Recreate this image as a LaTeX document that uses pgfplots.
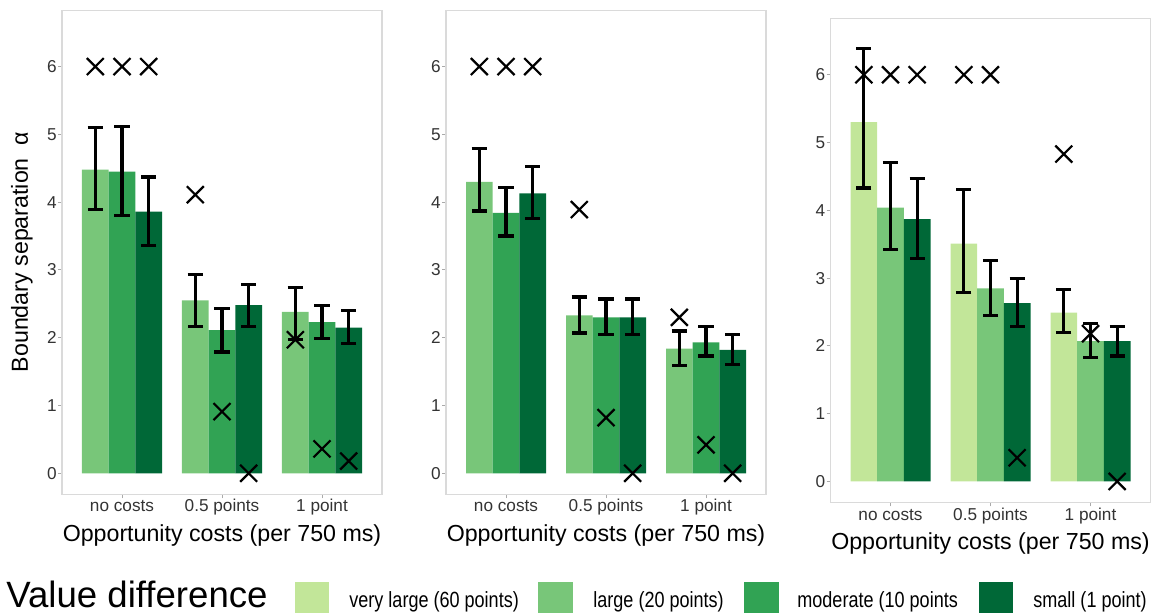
\documentclass[border=0pt]{standalone}
\usepackage{pgfplots}
\pgfplotsset{compat=1.18}
\usepackage{pgfplotstable}
\usepackage{fontspec}
\setmainfont{Liberation Sans}
\newfontfamily\legfont[FakeStretch=0.82]{Liberation Sans}

\definecolor{cVL}{HTML}{C2E699}
\definecolor{cL}{HTML}{78C679}
\definecolor{cM}{HTML}{31A354}
\definecolor{cS}{HTML}{006837}
\definecolor{boxgray}{RGB}{218,218,218}
\definecolor{tickgray}{RGB}{170,170,170}

% columns: g = group; per series: y, lo, hi, c (cross)
\pgfplotstableread{
g ya loa hia ca yb lob hib cb yc loc hic cc
1 4.48 3.89 5.10 6.00 4.45 3.80 5.12 6.00 3.86 3.36 4.37 6.00
2 2.55 2.17 2.93 4.11 2.11 1.79 2.43 0.91 2.48 2.17 2.79 0.00
3 2.38 1.97 2.74 1.97 2.23 1.99 2.48 0.36 2.15 1.91 2.40 0.18
}\tA
\pgfplotstableread{
g ya loa hia ca yb lob hib cb yc loc hic cc
1 4.30 3.87 4.79 6.00 3.84 3.50 4.22 6.00 4.13 3.76 4.53 6.00
2 2.33 2.07 2.60 3.89 2.30 2.05 2.57 0.82 2.30 2.05 2.57 0.00
3 1.84 1.59 2.10 2.30 1.93 1.73 2.16 0.42 1.82 1.60 2.05 0.00
}\tB
\pgfplotstableread{
g ya loa hia ca yb lob hib cb yc loc hic cc
1 5.30 4.33 6.39 6.00 4.04 3.42 4.70 6.00 3.87 3.29 4.47 6.00
2 3.51 2.79 4.31 6.00 2.85 2.45 3.26 6.00 2.63 2.29 3.00 0.35
3 2.49 2.20 2.83 4.83 2.07 1.83 2.33 2.18 2.07 1.85 2.29 0.00
}\tC

\pgfplotsset{
  panel/.style={
    scale only axis, width=160pt, height=242pt,
    anchor=south west,
    xmin=0.4, xmax=3.6, ymin=-0.31, ymax=6.83,
    xtick={1,2,3}, xticklabels={no costs,0.5 points,1 point},
    ytick={0,1,2,3,4,5,6},
    xtick pos=bottom, ytick pos=left,
    axis line style={draw=boxgray, line width=0.6pt},
    tick align=outside, major tick length=2pt,
    tick style={draw=tickgray, line width=0.5pt},
    /pgf/number format/assume math mode=true,
    tick label style={font=\fontsize{8.6}{10}\selectfont, text=black!80},
    yticklabel style={anchor=east, inner sep=0pt, xshift=-0.5pt},
    xticklabel style={anchor=base, inner sep=0pt, yshift=-6.8pt},
    xlabel={Opportunity costs (per 750 ms)},
    xlabel style={font=\fontsize{11.6}{14}\selectfont, anchor=base, at={(axis description cs:0.5,0)}, yshift=-23.4pt, inner sep=0pt},
    clip=false,
  },
  bars/.style={ybar, bar width=0.2667, bar shift=0pt, draw=none, fill=#1, forget plot},
  ebar/.style={draw=none, mark=none, forget plot,
    error bars/.cd, y dir=both, y explicit, error mark=|,
    error bar style={draw=black, line width=1.6pt},
    error mark options={draw=black, line width=1.6pt, mark size=3.8pt}},
  crs/.style={only marks, mark=x, mark size=6pt, mark options={draw=black, line width=1.1pt}, forget plot},
}

\newcommand{\panelplots}[4]{%
  \addplot[bars=#2] table[x expr=\thisrow{g}-0.2667, y=ya] {#1};
  \addplot[bars=#3] table[x expr=\thisrow{g}, y=yb] {#1};
  \addplot[bars=#4] table[x expr=\thisrow{g}+0.2667, y=yc] {#1};
  \addplot[ebar] table[x expr=\thisrow{g}-0.2667, y=ya, y error plus expr=\thisrow{hia}-\thisrow{ya}, y error minus expr=\thisrow{ya}-\thisrow{loa}] {#1};
  \addplot[ebar] table[x expr=\thisrow{g}, y=yb, y error plus expr=\thisrow{hib}-\thisrow{yb}, y error minus expr=\thisrow{yb}-\thisrow{lob}] {#1};
  \addplot[ebar] table[x expr=\thisrow{g}+0.2667, y=yc, y error plus expr=\thisrow{hic}-\thisrow{yc}, y error minus expr=\thisrow{yc}-\thisrow{loc}] {#1};
  \addplot[crs] table[x expr=\thisrow{g}-0.2667, y=ca] {#1};
  \addplot[crs] table[x expr=\thisrow{g}, y=cb] {#1};
  \addplot[crs] table[x expr=\thisrow{g}+0.2667, y=cc] {#1};
}

\begin{document}
\begin{tikzpicture}[x=0.5pt, y=0.5pt]
\path[use as bounding box] (0pt,0pt) rectangle (578.5pt,306.5pt);

\begin{axis}[panel, at={(31pt,59.35pt)}]
\panelplots{\tA}{cL}{cM}{cS}
\end{axis}

\begin{axis}[panel, at={(223pt,59.35pt)}]
\panelplots{\tB}{cL}{cM}{cS}
\end{axis}

\begin{axis}[panel, at={(415.25pt,55.25pt)}]
\panelplots{\tC}{cVL}{cL}{cS}
\end{axis}

\node[rotate=90, font=\fontsize{11.6}{14}\selectfont, inner sep=0pt] at (11pt,180.5pt) {Boundary separation\ \ α};

% legend
\node[anchor=base west, inner sep=0pt, font=\fontsize{18.3}{20}\selectfont] at (3pt,2.6pt) {Value difference};
\fill[cVL] (147.5pt,0pt) rectangle (164.5pt,15.5pt);
\fill[cL]  (269pt,0pt) rectangle (286.5pt,15.5pt);
\fill[cM]  (372pt,0pt) rectangle (389.5pt,15.5pt);
\fill[cS]  (489.5pt,0pt) rectangle (506.5pt,15.5pt);
\node[anchor=base west, inner sep=0pt, font=\legfont\fontsize{11}{13}\selectfont] at (174.5pt,2.8pt) {very large (60 points)};
\node[anchor=base west, inner sep=0pt, font=\legfont\fontsize{11}{13}\selectfont] at (296.5pt,2.8pt) {large (20 points)};
\node[anchor=base west, inner sep=0pt, font=\legfont\fontsize{11}{13}\selectfont] at (398.5pt,2.8pt) {moderate (10 points};
\node[anchor=base west, inner sep=0pt, font=\legfont\fontsize{11}{13}\selectfont] at (516.5pt,2.8pt) {small (1 point)};
\end{tikzpicture}
\end{document}
